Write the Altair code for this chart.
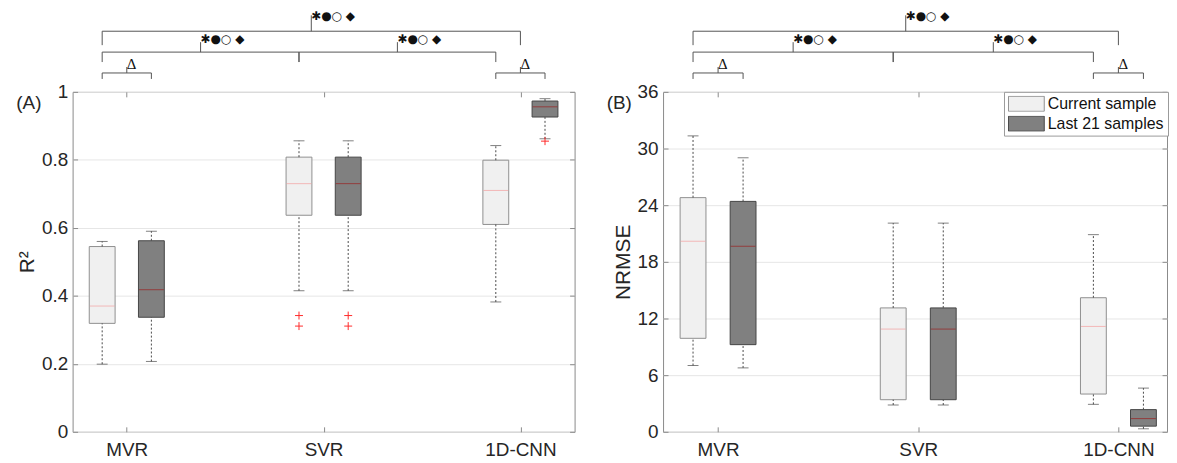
import json
import altair as alt
import pandas as pd

# ---------------- data ----------------
models = ["MVR", "SVR", "1D-CNN"]
series = ["Current sample", "Last 21 samples"]

# Panel (A): R^2 box statistics, [model][series]
r2_low = [[0.199, 0.207], [0.415, 0.415], [0.382, 0.862]]
r2_q1 = [[0.319, 0.337], [0.637, 0.637], [0.610, 0.926]]
r2_med = [[0.370, 0.418], [0.730, 0.730], [0.710, 0.956]]
r2_q3 = [[0.545, 0.562], [0.808, 0.808], [0.799, 0.973]]
r2_high = [[0.560, 0.590], [0.856, 0.856], [0.842, 0.980]]
r2_outliers = [[[], []], [[0.342, 0.311], [0.342, 0.311]], [[], [0.855]]]

# Panel (B): NRMSE box statistics, [model][series]
nrmse_low = [[7.02, 6.77], [2.84, 2.84], [2.91, 0.32]]
nrmse_q1 = [[9.90, 9.23], [3.40, 3.40], [4.00, 0.60]]
nrmse_med = [[20.18, 19.65], [10.88, 10.88], [11.16, 1.40]]
nrmse_q3 = [[24.80, 24.40], [13.12, 13.12], [14.20, 2.35]]
nrmse_high = [[31.34, 29.02], [22.10, 22.10], [20.88, 4.63]]
nrmse_outliers = [[[], []], [[], []], [[], []]]

r2_ticks = [0, 0.2, 0.4, 0.6, 0.8, 1]
nrmse_ticks = [0, 6, 12, 18, 24, 30, 36]

# significance brackets: (from group, to group, level, label); group = (model, series index or None)
SIG = "\u2731\u25cf\u25cb \u25c6"
sig_brackets = [
    (("MVR", 0), ("1D-CNN", None), 1, SIG),
    (("MVR", 0), ("SVR", 0), 2, SIG),
    (("SVR", 0), ("1D-CNN", 0), 2, SIG),
    (("MVR", 0), ("MVR", 1), 3, "\u0394"),
    (("1D-CNN", 0), ("1D-CNN", 1), 3, "\u0394"),
]

# ---------------- style ----------------
GROUP_OFFSET = [-0.125, 0.125]
LABEL_DX = [13, 15, 7, 6, 6]
LEVEL_PX = {1: (-61, -47, -77, -76), 2: (-40, -30, -50, -53), 3: (-19, -13, -25, -28)}
AX = "#8a8a8a"
TXT = "#262626"
FILLS = ["#f0f0f0", "#808080"]
STROKES = ["#8f8f8f", "#454545"]
MEDIANS = ["#f4a0a0", "#9a1f1f"]
WHISK = "#4a4a4a"
PLUS = "M-1,0H1M0,-1V1"
RECT = "M-1,-0.42H1V0.42H-1Z"


def gpos(model, s):
    base = models.index(model) + 1
    return base if s is None else base + GROUP_OFFSET[s]


def panel(low, q1, med, q3, high, outliers, y_title, y_ticks, panel_label,
          width, x_domain, show_legend):
    rows, outs = [], []
    for i, m in enumerate(models):
        for j, s in enumerate(series):
            x = gpos(m, j)
            rows.append(dict(model=m, series=s, x=x, lo=low[i][j], q1=q1[i][j],
                             med=med[i][j], q3=q3[i][j], hi=high[i][j]))
            for v in outliers[i][j]:
                outs.append(dict(series=s, x=x, v=v))
    box_df = pd.DataFrame(rows)
    out_df = pd.DataFrame(outs if outs else [dict(series=series[0], x=None, v=None)])

    br = []
    for k, (a, b, lvl, lab) in enumerate(sig_brackets):
        xa, xb = gpos(*a), gpos(*b)
        yl, ye, yt, ytx = LEVEL_PX[lvl]
        br.append(dict(xa=xa, xb=xb, xm=(xa + xb) / 2, yl=yl, ye=ye, yt=yt, ytx=ytx,
                       label=lab, kind="sym" if lvl < 3 else "delta", dx=LABEL_DX[k]))
    br_df = pd.DataFrame(br)

    xs = alt.Scale(domain=x_domain, nice=False, zero=False)
    ys = alt.Scale(domain=[y_ticks[0], y_ticks[-1]], nice=False, zero=False)
    label_expr = json.dumps(models) + "[round(datum.value) - 1]"

    x_main = alt.X("x:Q", scale=xs, axis=alt.Axis(
        values=[1, 2, 3], labelExpr=label_expr, title=None, grid=False, domain=False,
        tickSize=5, offset=-5, tickColor=AX, labelFontSize=19, labelColor=TXT,
        labelPadding=9, labelFlush=False, labelOverlap=False))
    y_main = alt.Y("q1:Q", scale=ys, axis=alt.Axis(
        values=y_ticks, format="~g", title=y_title, titleFontSize=21,
        titleFontWeight="normal", titleColor=TXT, titlePadding=4,
        labelFontSize=19, labelColor=TXT, labelPadding=5, tickSize=5, offset=-5,
        tickColor=AX, domain=False, grid=True, gridColor="#e6e6e6", labelFlush=False))

    if show_legend:
        leg = alt.Legend(title=None, orient="none", legendX=343, legendY=0,
                         symbolType=RECT, symbolSize=1296, symbolStrokeWidth=1,
                         clipHeight=16, rowPadding=4, labelFontSize=16, labelColor="#111111",
                         labelOffset=3, padding=4, strokeColor="#9a9a9a", fillColor="white",
                         cornerRadius=0, symbolOpacity=1)
    else:
        leg = None

    fill = alt.Fill("series:N", scale=alt.Scale(domain=series, range=FILLS), legend=leg)
    stroke = alt.Stroke("series:N", scale=alt.Scale(domain=series, range=STROKES), legend=leg)

    xn = alt.X("x:Q", axis=None)

    whisk_hi = alt.Chart(box_df).mark_rule(strokeDash=[2, 2], color=WHISK, strokeWidth=1).encode(
        x=xn, y=alt.Y("q3:Q", axis=None), y2="hi:Q")
    whisk_lo = alt.Chart(box_df).mark_rule(strokeDash=[2, 2], color=WHISK, strokeWidth=1).encode(
        x=xn, y=alt.Y("lo:Q", axis=None), y2="q1:Q")
    cap_hi = alt.Chart(box_df).mark_tick(orient="horizontal", size=11, thickness=1, color=WHISK).encode(
        x=xn, y=alt.Y("hi:Q", axis=None))
    cap_lo = alt.Chart(box_df).mark_tick(orient="horizontal", size=11, thickness=1, color=WHISK).encode(
        x=xn, y=alt.Y("lo:Q", axis=None))
    box = alt.Chart(box_df).mark_bar(size=26, orient="vertical", strokeWidth=1).encode(
        x=x_main, y=y_main, y2="q3:Q", fill=fill, stroke=stroke)
    median = alt.Chart(box_df).mark_tick(orient="horizontal", size=25, thickness=1).encode(
        x=alt.X("x:Q", axis=alt.Axis(orient="top", values=[1, 2, 3], labels=False, title=None,
                                     domain=False, grid=False, tickSize=5, offset=-5, tickColor=AX)),
        y=alt.Y("med:Q", axis=alt.Axis(orient="right", values=y_ticks, labels=False, title=None,
                                       domain=False, grid=False, tickSize=5, offset=-5, tickColor=AX)),
        color=alt.Color("series:N", scale=alt.Scale(domain=series, range=MEDIANS), legend=None))
    outl = alt.Chart(out_df).mark_point(shape=PLUS, size=64, filled=False, strokeWidth=1,
                                        color="#ff2b2b", opacity=1).encode(
        x=xn, y=alt.Y("v:Q", axis=None))

    bc = alt.Chart(br_df)
    bcol = "#555555"
    h_line = bc.mark_rule(color=bcol, strokeWidth=1).encode(
        x=alt.X("xa:Q", axis=None), x2="xb:Q", y=alt.Y("yl:Q", scale=None))
    l_end = bc.mark_rule(color=bcol, strokeWidth=1).encode(
        x=alt.X("xa:Q", axis=None), y=alt.Y("yl:Q", scale=None), y2="ye:Q")
    r_end = bc.mark_rule(color=bcol, strokeWidth=1).encode(
        x=alt.X("xb:Q", axis=None), y=alt.Y("yl:Q", scale=None), y2="ye:Q")
    tip = bc.mark_rule(color=bcol, strokeWidth=1).encode(
        x=alt.X("xm:Q", axis=None), y=alt.Y("yl:Q", scale=None), y2="yt:Q")
    sym_txt = bc.transform_filter(alt.datum.kind == "sym").mark_text(
        align="left", baseline="middle", font="DejaVu Sans", fontSize=12,
        color="#111111").encode(
        x=alt.X("xm:Q", axis=None), y=alt.Y("ytx:Q", scale=None), text="label:N", xOffset="dx:Q")
    del_txt = bc.transform_filter(alt.datum.kind == "delta").mark_text(
        align="left", baseline="middle", font="Liberation Serif", fontSize=15,
        color="#111111").encode(
        x=alt.X("xm:Q", axis=None), y=alt.Y("ytx:Q", scale=None), text="label:N", xOffset="dx:Q")

    plabel = alt.Chart(pd.DataFrame({"t": [panel_label]})).mark_text(
        fontSize=19, align="center", baseline="middle", color=TXT).encode(
        text="t:N", x=alt.value(-44), y=alt.value(11))

    return alt.layer(box, whisk_hi, whisk_lo, cap_hi, cap_lo, median, outl,
                     h_line, l_end, r_end, tip, sym_txt, del_txt, plabel).resolve_axis(
        x="independent", y="independent").properties(width=width, height=342)


left = panel(r2_low, r2_q1, r2_med, r2_q3, r2_high, r2_outliers, "R\u00b2", r2_ticks, "(A)",
             505, [0.75, 3.25], False)
right = panel(nrmse_low, nrmse_q1, nrmse_med, nrmse_q3, nrmse_high, nrmse_outliers, "NRMSE",
              nrmse_ticks, "(B)", 507, [0.75, 3.218], True)

chart = alt.hconcat(left, right, spacing=30).resolve_scale(
    fill="independent", stroke="independent", color="independent"
).properties(
    padding={"left": 7, "top": 0, "right": 0, "bottom": 0}
).configure(font="Liberation Sans").configure_view(stroke=AX, strokeWidth=1)

chart.save("out.html", embed_options={"renderer": "svg", "actions": False})
